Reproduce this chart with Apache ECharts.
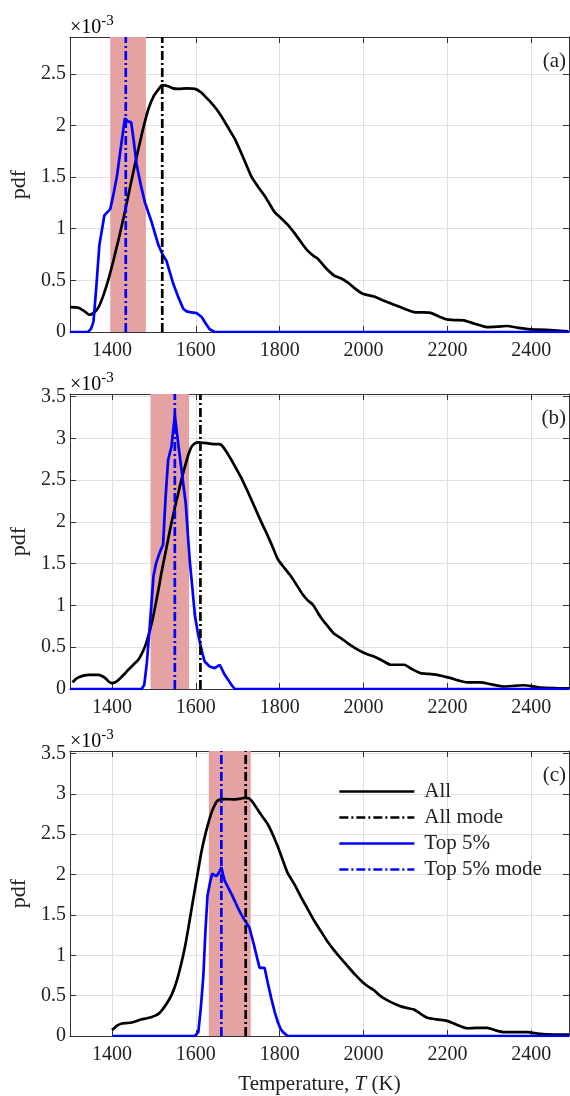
<!DOCTYPE html>
<html>
<head>
<meta charset="utf-8">
<script src="https://cdn.jsdelivr.net/npm/echarts@6/dist/echarts.min.js"></script>
<style>
  html, body { margin: 0; padding: 0; background: #fff; }
  #main { width: 570px; height: 1096px; }
</style>
</head>
<body>
<div id="main"></div>
<script>
// pdf values are in units of 1e-3, T in K
const xTicks = [1400, 1600, 1800, 2000, 2200, 2400];

const allA = [[1300,0.24],[1320,0.235],[1335,0.2],[1346,0.167],[1358,0.19],[1368,0.24],[1380,0.36],[1392,0.515],[1404,0.7],[1416,0.9],[1428,1.11],[1439,1.32],[1451,1.55],[1463,1.77],[1475,1.98],[1487,2.16],[1499,2.28],[1511,2.35],[1520,2.39],[1534,2.38],[1546,2.36],[1558,2.355],[1578,2.36],[1598,2.355],[1613,2.32],[1625,2.27],[1637,2.22],[1649,2.16],[1661,2.09],[1677,1.98],[1693,1.87],[1712,1.7],[1732,1.51],[1748,1.41],[1764,1.32],[1776,1.24],[1788,1.16],[1804,1.1],[1819,1.04],[1835,0.96],[1851,0.87],[1866,0.79],[1880,0.74],[1891,0.71],[1910,0.62],[1930,0.547],[1946,0.52],[1962,0.48],[1980,0.42],[1998,0.37],[2025,0.344],[2050,0.3],[2073,0.264],[2100,0.22],[2120,0.193],[2140,0.19],[2160,0.185],[2180,0.15],[2199,0.122],[2220,0.115],[2239,0.112],[2265,0.08],[2294,0.048],[2320,0.052],[2342,0.058],[2370,0.04],[2397,0.026],[2437,0.022],[2488,0.006]];
const topA = [[1300,0],[1343,0],[1350,0.03],[1356,0.1],[1363,0.45],[1370,0.84],[1382,1.13],[1396,1.19],[1404,1.34],[1412,1.51],[1424,1.87],[1431,2.07],[1438,2.04],[1446,2.03],[1452,1.85],[1459,1.62],[1469,1.42],[1479,1.25],[1495,1.06],[1511,0.84],[1522,0.74],[1530,0.69],[1538,0.58],[1546,0.47],[1558,0.34],[1570,0.225],[1578,0.2],[1586,0.193],[1602,0.183],[1614,0.145],[1624,0.08],[1633,0.026],[1645,0],[2490,0]];

const allB = [[1306,0.08],[1313,0.115],[1321,0.14],[1332,0.16],[1344,0.17],[1356,0.17],[1368,0.17],[1376,0.155],[1384,0.13],[1392,0.09],[1400,0.07],[1408,0.08],[1416,0.11],[1428,0.17],[1439,0.23],[1451,0.29],[1463,0.35],[1471,0.42],[1479,0.51],[1487,0.64],[1495,0.79],[1503,0.98],[1511,1.19],[1518,1.39],[1526,1.59],[1534,1.79],[1542,1.99],[1550,2.17],[1558,2.34],[1566,2.51],[1574,2.66],[1582,2.8],[1590,2.9],[1598,2.94],[1606,2.95],[1618,2.945],[1629,2.94],[1645,2.93],[1655,2.93],[1661,2.92],[1673,2.84],[1685,2.74],[1697,2.63],[1709,2.52],[1724,2.36],[1740,2.18],[1756,2.0],[1772,1.83],[1784,1.69],[1796,1.55],[1811,1.45],[1827,1.35],[1841,1.24],[1855,1.13],[1867,1.06],[1879,1.01],[1889,0.93],[1899,0.85],[1915,0.75],[1930,0.66],[1946,0.61],[1962,0.55],[1980,0.49],[1998,0.44],[2012,0.41],[2025,0.39],[2045,0.34],[2065,0.29],[2080,0.29],[2097,0.29],[2115,0.24],[2136,0.19],[2156,0.18],[2176,0.17],[2192,0.15],[2208,0.13],[2228,0.1],[2247,0.08],[2279,0.08],[2305,0.055],[2334,0.03],[2360,0.038],[2382,0.045],[2400,0.035],[2422,0.016],[2460,0.01],[2490,0.008]];
const topB = [[1300,0],[1471,0],[1477,0.05],[1483,0.3],[1489,0.67],[1494,1.0],[1499,1.35],[1505,1.5],[1511,1.59],[1516,1.66],[1522,1.73],[1528,2.3],[1534,2.74],[1542,2.9],[1550,3.28],[1558,2.94],[1566,2.62],[1576,2.22],[1581,1.85],[1586,1.51],[1592,1.2],[1598,0.87],[1604,0.7],[1610,0.55],[1616,0.42],[1621,0.33],[1633,0.27],[1645,0.25],[1657,0.29],[1669,0.17],[1677,0.11],[1685,0.05],[1693,0],[2490,0]];

const allC = [[1400,0.076],[1406,0.1],[1412,0.128],[1424,0.155],[1435,0.16],[1447,0.167],[1459,0.185],[1471,0.207],[1483,0.22],[1495,0.235],[1503,0.252],[1511,0.275],[1518,0.31],[1526,0.367],[1534,0.43],[1542,0.506],[1550,0.61],[1558,0.746],[1566,0.91],[1574,1.1],[1582,1.33],[1590,1.58],[1598,1.82],[1606,2.06],[1613,2.27],[1621,2.46],[1629,2.62],[1637,2.76],[1645,2.86],[1653,2.92],[1669,2.935],[1693,2.93],[1708,2.94],[1716,2.95],[1728,2.94],[1738,2.88],[1748,2.8],[1760,2.71],[1772,2.62],[1784,2.49],[1796,2.34],[1808,2.17],[1819,2.02],[1835,1.88],[1851,1.72],[1866,1.58],[1882,1.43],[1898,1.3],[1914,1.17],[1930,1.06],[1946,0.96],[1962,0.865],[1980,0.76],[1998,0.666],[2012,0.61],[2025,0.566],[2037,0.51],[2049,0.466],[2069,0.41],[2089,0.367],[2105,0.345],[2120,0.327],[2136,0.275],[2152,0.227],[2175,0.205],[2199,0.187],[2222,0.14],[2247,0.096],[2270,0.1],[2295,0.1],[2315,0.07],[2334,0.048],[2390,0.048],[2415,0.03],[2437,0.02],[2490,0.016]];
const topC = [[1400,0],[1598,0],[1606,0.048],[1612,0.35],[1618,0.746],[1623,1.3],[1628,1.74],[1634,1.9],[1639,2.01],[1649,1.98],[1655,2.02],[1661,2.09],[1665,2.0],[1669,1.92],[1677,1.84],[1685,1.76],[1693,1.67],[1701,1.58],[1709,1.5],[1716,1.44],[1722,1.39],[1728,1.34],[1734,1.22],[1740,1.1],[1746,0.97],[1752,0.845],[1764,0.845],[1772,0.65],[1780,0.466],[1788,0.3],[1796,0.167],[1802,0.09],[1808,0.048],[1819,0],[2490,0]];

// shaded band [from, to], mode of all, mode of top 5%, y-axis max
const bands = [[1396, 1481], [1492, 1584], [1631, 1731]];
const modesAll = [1520, 1611, 1719];
const modesTop = [1433, 1550, 1661];
const yMaxes = [2.857, 3.53, 3.53];
const panelLabels = ['(a)', '(b)', '(c)'];

const allSets = [allA, allB, allC];
const topSets = [topA, topB, topC];

const font = '"Liberation Serif", "DejaVu Serif", serif';
const gridTops = [37, 394, 751];
const gridH = 295;
const frame = '#333';
const dashDot = [9, 3, 2, 3];

let myChart = echarts.init(document.getElementById('main'));

let grids = [], xAxes = [], yAxes = [], series = [], graphics = [];

gridTops.forEach((top, i) => {
  grids.push({ left: 68, top: top, width: 501, height: gridH });

  // bottom x axis
  xAxes.push({
    type: 'value', gridIndex: i, min: 1300, max: 2490,
    axisLine: { show: true, onZero: false, lineStyle: { color: frame, width: 1 } },
    axisTick: { show: true, inside: true, length: 6, customValues: xTicks, lineStyle: { color: frame } },
    axisLabel: {
      customValues: xTicks, margin: 9, color: '#222', fontFamily: font, fontSize: 20,
      formatter: v => String(v)
    },
    splitLine: { show: true, lineStyle: { color: '#e0e0e0', width: 1 } },
    name: i === 2 ? '{n|Temperature, }{i|T}{n| (K)}' : '',
    nameLocation: 'middle', nameGap: 38,
    nameTextStyle: {
      rich: {
        n: { fontFamily: font, fontSize: 21, color: '#222' },
        i: { fontFamily: font, fontSize: 21, fontStyle: 'italic', color: '#222' }
      }
    }
  });
  // top x axis (box)
  xAxes.push({
    type: 'value', gridIndex: i, position: 'top', min: 1300, max: 2490,
    axisLine: { show: true, onZero: false, lineStyle: { color: frame, width: 1 } },
    axisTick: { show: true, inside: true, length: 6, customValues: xTicks, lineStyle: { color: frame } },
    axisLabel: { show: false }, splitLine: { show: false }
  });
  // left y axis
  yAxes.push({
    type: 'value', gridIndex: i, min: 0, max: yMaxes[i], interval: 0.5,
    axisLine: { show: true, lineStyle: { color: frame, width: 1 } },
    axisTick: { show: true, inside: true, length: 6, lineStyle: { color: frame } },
    axisLabel: { showMaxLabel: false, margin: 4, color: '#222', fontFamily: font, fontSize: 20 },
    splitLine: { show: true, lineStyle: { color: '#e0e0e0', width: 1 } },
    name: 'pdf', nameLocation: 'middle', nameGap: 40,
    nameTextStyle: { fontFamily: font, fontSize: 22, color: '#222' }
  });
  // right y axis (box)
  yAxes.push({
    type: 'value', gridIndex: i, position: 'right', min: 0, max: yMaxes[i], interval: 0.5,
    axisLine: { show: true, lineStyle: { color: frame, width: 1 } },
    axisTick: { show: true, inside: true, length: 6, lineStyle: { color: frame } },
    axisLabel: { show: false }, splitLine: { show: false }
  });

  const xi = i * 2, yi = i * 2;
  const yMax = yMaxes[i];

  series.push({
    name: 'band' + i, type: 'line', xAxisIndex: xi, yAxisIndex: yi, z: 1,
    data: [[bands[i][0], yMax], [bands[i][1], yMax]],
    symbol: 'none', lineStyle: { width: 0 },
    areaStyle: { color: '#e4a2a2', opacity: 1 }, silent: true
  });
  series.push({
    name: 'All', type: 'line', xAxisIndex: xi, yAxisIndex: yi, z: 3,
    data: allSets[i], symbol: 'none', smooth: 0.2,
    lineStyle: { color: '#000', width: 2.7 }, itemStyle: { color: '#000' }
  });
  series.push({
    name: 'Top 5%', type: 'line', xAxisIndex: xi, yAxisIndex: yi, z: 4,
    data: topSets[i], symbol: 'none',
    lineStyle: { color: '#0000ff', width: 2.7 }, itemStyle: { color: '#0000ff' }
  });
  series.push({
    name: 'All mode', type: 'line', xAxisIndex: xi, yAxisIndex: yi, z: 5,
    data: [[modesAll[i], 0], [modesAll[i], yMax]], symbol: 'none',
    lineStyle: { color: '#000', width: 2.7, type: dashDot }, itemStyle: { color: '#000' }
  });
  series.push({
    name: 'Top 5% mode', type: 'line', xAxisIndex: xi, yAxisIndex: yi, z: 6,
    data: [[modesTop[i], 0], [modesTop[i], yMax]], symbol: 'none',
    lineStyle: { color: '#0000ff', width: 2.7, type: dashDot }, itemStyle: { color: '#0000ff' }
  });

  // x10^-3 multiplier
  graphics.push({
    type: 'text', left: 70, top: top - 25, z: 10,
    style: {
      text: '{a|×10}{b|-3}',
      rich: {
        a: { fontFamily: font, fontSize: 20, color: '#222', lineHeight: 22, padding: [6, 0, 0, 0] },
        b: { fontFamily: font, fontSize: 15, color: '#222', verticalAlign: 'top' }
      }
    }
  });
  // panel label
  graphics.push({
    type: 'text', right: 4, top: top + 14, z: 10,
    style: { text: panelLabels[i], fontFamily: font, fontSize: 21, fill: '#222' }
  });
});

myChart.setOption({
  animation: false,
  backgroundColor: '#fff',
  grid: grids,
  xAxis: xAxes,
  yAxis: yAxes,
  legend: {
    data: ['All', 'All mode', 'Top 5%', 'Top 5% mode'],
    orient: 'vertical', left: 338, top: 781, padding: 0,
    itemWidth: 75, itemHeight: 14, itemGap: 5,
    selectedMode: false,
    itemStyle: { opacity: 0 },
    lineStyle: { width: 2.7 },
    textStyle: { fontFamily: font, fontSize: 21, color: '#222', padding: [0, 0, 0, 5] }
  },
  graphic: graphics,
  series: series
});

window.onresize = function () {
  myChart.resize();
}
</script>
</body>
</html>
